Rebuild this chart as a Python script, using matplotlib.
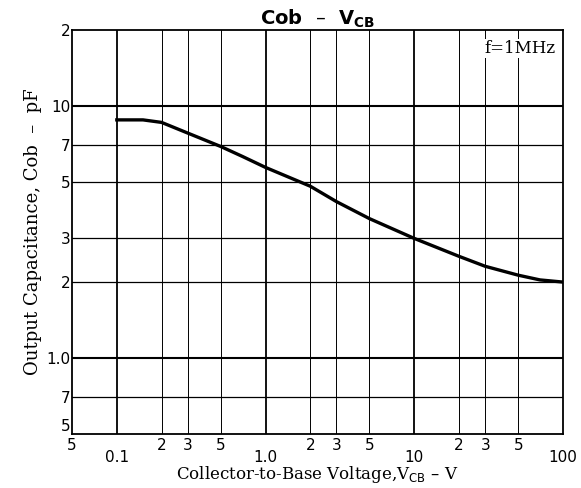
import matplotlib
matplotlib.use("Agg")
import matplotlib.pyplot as plt
from matplotlib.ticker import FixedLocator, NullFormatter

# Cob vs VCB
vcb = [0.1, 0.15, 0.2, 0.3, 0.5, 0.7, 1.0, 2.0, 3.0, 5.0, 10.0, 20.0, 30.0, 50.0, 70.0, 100.0]
cob = [8.8, 8.8, 8.6, 7.8, 6.9, 6.3, 5.7, 4.8, 4.17, 3.57, 2.98, 2.53, 2.31, 2.13, 2.04, 2.0]

x_major = [0.1, 1.0, 10.0, 100.0]
x_major_labels = ["0.1", "1.0", "10", "100"]
x_minor = [0.05, 0.2, 0.3, 0.5, 2, 3, 5, 20, 30, 50]
x_minor_labels = ["5", "2", "3", "5", "2", "3", "5", "2", "3", "5"]

y_ticks = [0.5, 0.7, 1.0, 2, 3, 5, 7, 10, 20]
y_labels = ["5", "7", "1.0", "2", "3", "5", "7", "10", "2"]

fig = plt.figure(figsize=(5.81, 4.88), dpi=100)
ax = fig.add_axes([0.124, 0.111, 0.845, 0.8275])
ax.set_xscale("log")
ax.set_yscale("log")
ax.set_xlim(0.05, 100)
ax.set_ylim(0.5, 20)

# grid: heavier lines on decades
for xv in x_major[:-1]:
    ax.axvline(xv, color="black", lw=1.3, zorder=1)
for xv in x_minor[1:]:
    ax.axvline(xv, color="black", lw=0.7, zorder=1)
for yv in y_ticks[1:-1]:
    lw = 1.5 if yv in (1.0, 10) else 0.9
    ax.axhline(yv, color="black", lw=lw, zorder=1)

ax.plot(vcb, cob, color="black", lw=2.4, zorder=3)

ax.xaxis.set_major_locator(FixedLocator(x_major))
ax.xaxis.set_minor_locator(FixedLocator(x_minor))
ax.set_xticklabels(x_major_labels)
ax.set_xticklabels(x_minor_labels, minor=True)
ax.tick_params(axis="x", which="major", length=0, pad=12, labelsize=11)
ax.tick_params(axis="x", which="minor", length=0, pad=3, labelsize=11)

ax.yaxis.set_major_locator(FixedLocator(y_ticks))
ax.yaxis.set_minor_formatter(NullFormatter())
ax.yaxis.set_minor_locator(FixedLocator([]))
ax.set_yticklabels(y_labels)
ax.tick_params(axis="y", which="major", length=0, pad=1, labelsize=11)
# bottom-left "5" sits just above the corner, as in the original
ax.get_yticklabels()[0].set_va("bottom")

for s in ax.spines.values():
    s.set_linewidth(1.3)

ax.set_title(r"Cob  –  V$_{\mathbf{CB}}$", fontsize=14, fontweight="bold", pad=2)
ax.set_ylabel("Output Capacitance, Cob  –  pF", family="serif", fontsize=13, labelpad=3)
ax.set_xlabel(r"Collector-to-Base Voltage,V$_{\rm CB}$ – V", family="serif", fontsize=12, labelpad=-1)
ax.text(0.985, 0.975, "f=1MHz", transform=ax.transAxes, ha="right", va="top",
        family="serif", fontsize=12, zorder=4,
        bbox=dict(facecolor="white", edgecolor="none", pad=1))

fig.savefig("out.png", dpi=100)
